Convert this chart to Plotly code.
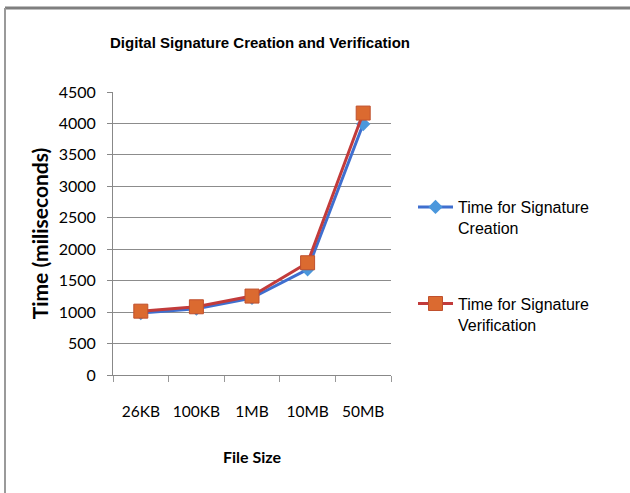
import plotly.graph_objects as go

categories = ["26KB", "100KB", "1MB", "10MB", "50MB"]
creation = [985, 1055, 1225, 1680, 3990]
verification = [1015, 1085, 1255, 1785, 4165]
y_ticks = [0, 500, 1000, 1500, 2000, 2500, 3000, 3500, 4000, 4500]

SANS = "Liberation Sans, Arial"
CAL = "Lato, Open Sans"

fig = go.Figure()
fig.add_trace(go.Scatter(
    x=categories, y=creation, mode="lines+markers",
    name="Time for Signature<br>Creation", legendgroup="a",
    line=dict(color="#3F6FCF", width=3),
    marker=dict(symbol="diamond", size=11, color="#4A97DC"),
))
fig.add_trace(go.Scatter(
    x=categories, y=verification, mode="lines+markers",
    name="Time for Signature<br>Verification", legendgroup="b",
    line=dict(color="#C23B3B", width=3),
    marker=dict(symbol="square", size=14, color="#DB6A30",
                line=dict(color="#C0502D", width=1)),
))

W, H = 630, 493
ml, mr, mt, mb = 113, 239, 92, 118
pw, ph = W - ml - mr, H - mt - mb

def px(x):
    return (x - ml) / pw

def py(y):
    return (H - mb - y) / ph

fig.update_layout(
    width=W, height=H,
    margin=dict(l=ml, r=mr, t=mt, b=mb),
    paper_bgcolor="white", plot_bgcolor="white",
    title=dict(text="<b>Digital Signature Creation and Verification</b>",
               x=260 / W, xanchor="center", y=1 - 43 / H, yanchor="middle",
               font=dict(family=SANS, size=15, color="black")),
    font=dict(family=CAL, color="black"),
    xaxis=dict(
        type="category", tickson="boundaries", ticks="outside", ticklen=6,
        tickcolor="#999", showline=True, linecolor="#888", linewidth=1,
        showgrid=False, tickfont=dict(size=15.5, family=CAL), tickangle=0,
        ticklabelstandoff=22,
        title=dict(text="<b>File Size</b>", font=dict(size=16, family=CAL), standoff=33),
        range=[-0.5, 4.5],
    ),
    yaxis=dict(
        range=[0, 4500], tickvals=y_ticks, ticks="outside", ticklen=5,
        tickcolor="#888", showline=True, linecolor="#888", linewidth=1,
        showgrid=True, gridcolor="#8C8C8C", gridwidth=1,
        tickfont=dict(size=16, family=CAL), ticklabelstandoff=8,
        title=dict(text="<b>Time (miliseconds)</b>", font=dict(size=21, family=CAL), standoff=4),
        zeroline=False,
    ),
    legend=dict(x=px(413), y=py(190), xanchor="left", yanchor="top",
                font=dict(family=SANS, size=16, color="black"),
                tracegroupgap=52, itemwidth=35, valign="top",
                bgcolor="rgba(0,0,0,0)"),
    showlegend=True,
    shapes=[
        dict(type="line", xref="paper", yref="paper", x0=px(5), x1=px(630), y0=py(8), y1=py(8),
             line=dict(color="#7F7F7F", width=3)),
        dict(type="line", xref="paper", yref="paper", x0=px(5), x1=px(5), y0=py(8), y1=py(493),
             line=dict(color="#9A9A9A", width=2)),
    ],
)

fig.write_html("out.html", config={"displayModeBar": False},
               post_script="document.body.style.margin='0';document.body.style.overflow='hidden';"
                           "document.documentElement.style.overflow='hidden';")
